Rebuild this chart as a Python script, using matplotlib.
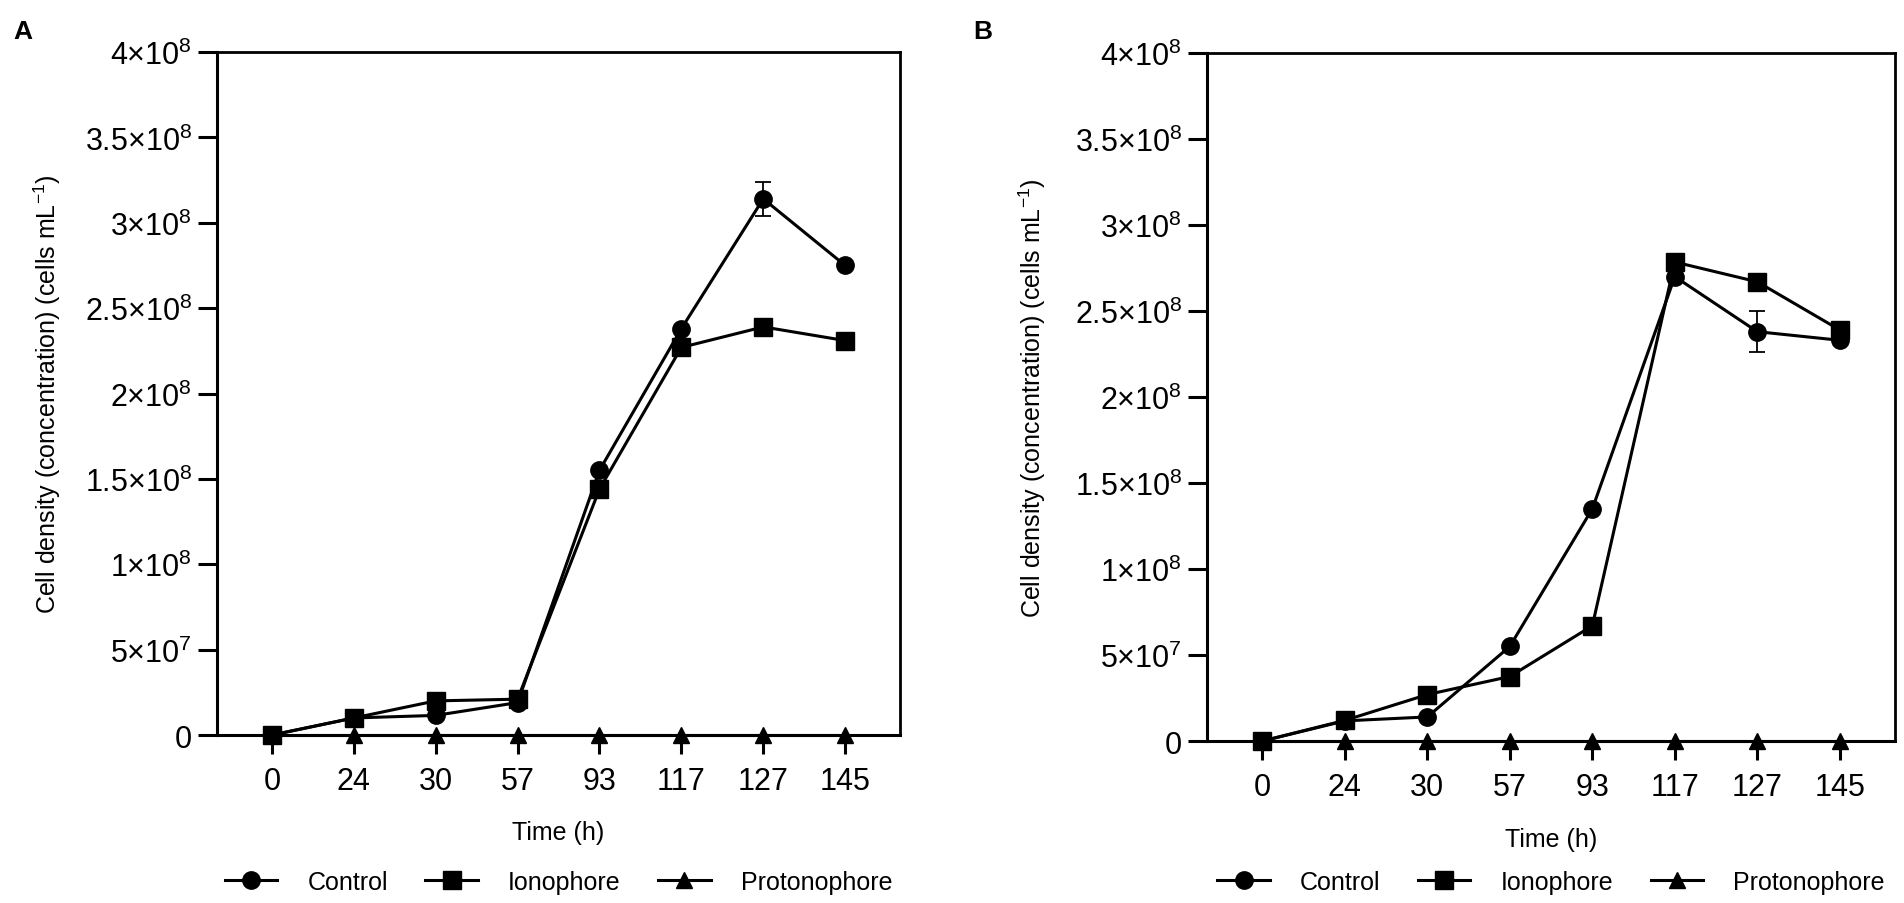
import numpy as np
import matplotlib
matplotlib.use('Agg')
import matplotlib.pyplot as plt

plt.rcParams['font.family'] = ['Liberation Sans', 'DejaVu Sans']
plt.rcParams['mathtext.fontset'] = 'custom'
plt.rcParams['mathtext.rm'] = 'Liberation Sans'
plt.rcParams['mathtext.it'] = 'Liberation Sans:italic'

# sampling times (h), shown as evenly spaced categories
times = ['0', '24', '30', '57', '93', '117', '127', '145']

# panel A, cells mL-1
a_control = [0, 1.0e7, 1.15e7, 1.9e7, 1.55e8, 2.38e8, 3.14e8, 2.75e8]
a_control_err = [0, 0, 0, 0, 0, 0, 1.0e7, 0]
a_ionophore = [0, 1.0e7, 2.0e7, 2.1e7, 1.44e8, 2.27e8, 2.39e8, 2.31e8]
a_protonophore = [0, 0, 0, 0, 0, 0, 0, 0]

# panel B, cells mL-1
b_control = [0, 1.17e7, 1.4e7, 5.5e7, 1.35e8, 2.70e8, 2.38e8, 2.33e8]
b_control_err = [0, 0, 0, 0, 0, 0, 1.2e7, 0]
b_ionophore = [0, 1.2e7, 2.7e7, 3.75e7, 6.7e7, 2.785e8, 2.67e8, 2.39e8]
b_protonophore = [0, 0, 0, 0, 0, 0, 0, 0]

y_ticks = np.arange(0, 4.01e8, 5e7)


def sci_label(v):
    if v == 0:
        return '0'
    exp = int(np.floor(np.log10(v)))
    mant = v / 10 ** exp
    return '%g×10$^{\\mathregular{%d}}$' % (mant, exp)


def draw_panel(ax, control, control_err, ionophore, protonophore, ylab_x):
    x = np.arange(len(times))
    lw = 2.2
    # protonophore sits on the axis line, under the other two series
    ax.plot(x, protonophore, '-^', color='black', lw=lw, ms=12, label='Protonophore',
            zorder=2.6, clip_on=False)
    ax.errorbar(x, control, yerr=control_err, fmt='none', ecolor='black',
                elinewidth=1.3, capsize=6, capthick=1.3, zorder=2.7)
    ax.plot(x, control, '-o', color='black', lw=lw, ms=12.5, label='Control',
            zorder=3, clip_on=False)
    ax.plot(x, ionophore, '-s', color='black', lw=lw, ms=12.5, label='Ionophore',
            zorder=4, clip_on=False)

    ax.set_xlim(-0.67, len(times) - 1 + 0.67)
    ax.set_ylim(0, 4e8)
    ax.set_xticks(x)
    ax.set_xticklabels(times)
    ax.set_yticks(y_ticks)
    ax.set_yticklabels([sci_label(v) for v in y_ticks])
    ax.tick_params(axis='both', direction='out', length=14, width=2.2,
                   labelsize=22, colors='black')
    ax.tick_params(axis='y', pad=4)
    ax.tick_params(axis='x', pad=8)
    for side in ['left', 'bottom']:
        ax.spines[side].set_linewidth(2.2)
    for side in ['top', 'right']:
        ax.spines[side].set_linewidth(2.0)

    ax.set_xlabel('Time (h)', fontsize=18)
    ax.set_ylabel('Cell density (concentration) (cells mL$^{\\mathregular{-1}}$)', fontsize=18)
    ax.xaxis.set_label_coords(0.5, -0.125)
    ax.yaxis.set_label_coords(ylab_x, 0.5)

    handles, labels = ax.get_legend_handles_labels()
    order = [labels.index(n) for n in ['Control', 'Ionophore', 'Protonophore']]
    return [handles[i] for i in order], [labels[i] for i in order]


fig = plt.figure(figsize=(19.04, 9.04), dpi=100)
ax_a = fig.add_axes([0.114, 0.1858, 0.3587, 0.7556])
ax_b = fig.add_axes([0.634, 0.1792, 0.3613, 0.761])

leg_a = draw_panel(ax_a, a_control, a_control_err, a_ionophore, a_protonophore, -0.226)
leg_b = draw_panel(ax_b, b_control, b_control_err, b_ionophore, b_protonophore, -0.231)

for ax, (h, l), cx in [(ax_a, leg_a, 0.2933), (ax_b, leg_b, 0.8146)]:
    ax.legend(h, l, loc='center', bbox_to_anchor=(cx, 0.0232), bbox_transform=fig.transFigure,
              ncol=3, frameon=False, fontsize=18, handlelength=2.1,
              handletextpad=1.2, columnspacing=1.5)

fig.text(0.0068, 0.978, 'A', fontsize=19, fontweight='bold', ha='left', va='top')
fig.text(0.511, 0.978, 'B', fontsize=19, fontweight='bold', ha='left', va='top')

fig.savefig('out.png', dpi=100)
